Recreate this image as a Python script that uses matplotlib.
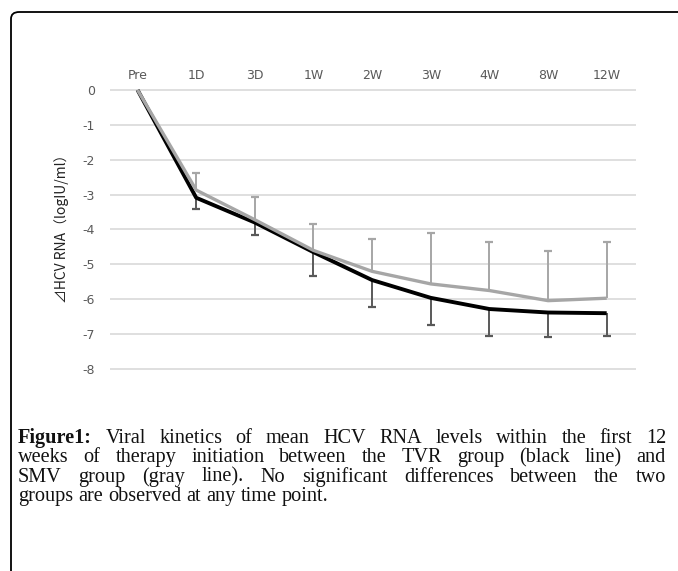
import matplotlib.pyplot as plt
from matplotlib.patches import FancyBboxPatch

plt.rcParams['axes.unicode_minus'] = False

# time points
labels = ['Pre', '1D', '3D', '1W', '2W', '3W', '4W', '8W', '12W']

# mean change of HCV RNA (log IU/ml)
tvr_mean = [0, -3.09, -3.80, -4.65, -5.45, -5.96, -6.28, -6.38, -6.40]
smv_mean = [0, -2.87, -3.72, -4.60, -5.20, -5.56, -5.75, -6.04, -5.97]

# SD (TVR drawn downwards, SMV upwards)
tvr_sd = [0, 0.32, 0.37, 0.67, 0.77, 0.79, 0.77, 0.70, 0.65]
smv_sd = [0, 0.50, 0.66, 0.76, 0.93, 1.46, 1.40, 1.41, 1.62]

yticks = [0, -1, -2, -3, -4, -5, -6, -7, -8]

caption_lines = [
    "Viral kinetics of mean HCV RNA levels within the first 12",
    "weeks of therapy initiation between the TVR group (black line) and",
    "SMV group (gray line). No significant differences between the two",
    "groups are observed at any time point.",
]

W, H = 678, 571
fig = plt.figure(figsize=(W / 100, H / 100), dpi=100)

# border box (runs off the right/bottom of the picture)
box = FancyBboxPatch((11 / W, -0.2), 1.2, 1 - 12 / H + 0.2,
                     boxstyle="round,pad=0,rounding_size=0.012",
                     transform=fig.transFigure, fill=False, lw=1.3,
                     ec='black', clip_on=False)
fig.patches.append(box)

ax = fig.add_axes([110 / W, (H - 372.5) / H, (636 - 110) / W, (372.5 - 86.5) / H])
x = list(range(len(labels)))

for yv in yticks:
    ax.axhline(yv, color='#d9d9d9', lw=1.2, zorder=0)

# error bars
smv_top = [m + s for m, s in zip(smv_mean, smv_sd)]
tvr_bot = [m - s for m, s in zip(tvr_mean, tvr_sd)]
ax.vlines(x[1:], smv_mean[1:], smv_top[1:], color='#a6a6a6', lw=1.4, zorder=2)
ax.plot(x[1:], smv_top[1:], ls='none', marker='_', ms=6, mew=1.6, color='#a6a6a6', zorder=2)
ax.vlines(x[1:], tvr_mean[1:], tvr_bot[1:], color='#595959', lw=1.4, zorder=2)
ax.plot(x[1:], tvr_bot[1:], ls='none', marker='_', ms=6, mew=1.6, color='#595959', zorder=2)

ax.plot(x, tvr_mean, color='black', lw=2.8, zorder=3, solid_capstyle='butt', clip_on=False)
ax.plot(x, smv_mean, color='#a6a6a6', lw=2.4, zorder=4, solid_capstyle='butt', clip_on=False)

ax.set_xlim(-0.47, 8.5)
ax.set_ylim(-8.1, 0.1)
ax.set_yticks(yticks)
ax.set_xticks(x)
ax.set_xticklabels(labels)
ax.xaxis.tick_top()
ax.tick_params(axis='x', length=0, pad=3.5, labelsize=9, labelcolor='#595959')
ax.tick_params(axis='y', length=0, pad=11, labelsize=9, labelcolor='#595959')
for s in ax.spines.values():
    s.set_visible(False)

fig.canvas.draw()
renderer = fig.canvas.get_renderer()

# y label, scaled to the reference's length
yl = fig.text(62 / W, 1 - 225 / H, '⊿HCV RNA（logIU/ml）', rotation=90, ha='center', va='center',
              fontsize=8, family=['Noto Sans CJK JP', 'DejaVu Sans'], color='#222222')
yl.set_fontsize(8 * 156 / yl.get_window_extent(renderer).height)


def width(t, wt, fs):
    tt = fig.text(0, 0, t, fontsize=fs, family='Liberation Serif', weight=wt)
    bb = tt.get_window_extent(renderer)
    tt.remove()
    return bb.width


x0, x1 = 18, 666
fs = 14.6
base = 443
for i, line in enumerate(caption_lines):
    words = [(w, 'normal') for w in line.split()]
    if i == 0:
        words = [('Figure1:', 'bold')] + words
    ws = [width(w, wt, fs) for w, wt in words]
    if i == len(caption_lines) - 1:
        gap = width('a b', 'normal', fs) - width('ab', 'normal', fs)
    else:
        gap = (x1 - x0 - sum(ws)) / (len(words) - 1)
    xp = x0
    y = base + i * 19.4
    for (w, wt), ww in zip(words, ws):
        fig.text(xp / W, 1 - y / H, w, fontsize=fs, family='Liberation Serif', weight=wt,
                 ha='left', va='baseline', color='#111111')
        xp += ww + gap

fig.savefig('out.png', dpi=100)
